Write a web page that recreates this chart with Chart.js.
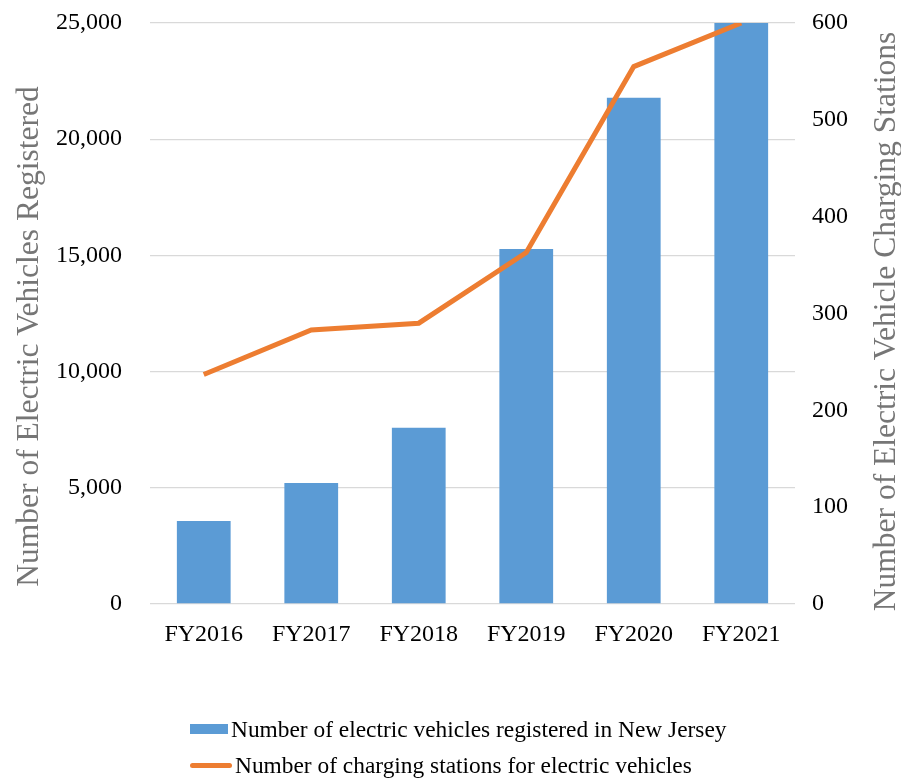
<!DOCTYPE html>
<html lang="en">
<head>
    <meta charset="UTF-8">
    <title>Electric Vehicles and Charging Stations in New Jersey</title>
    <script src="https://cdn.jsdelivr.net/npm/chart.js"></script>
    <style>
        html, body { margin: 0; padding: 0; background: #fff; }
        .wrap { position: relative; width: 901px; height: 781px; }
        .legend { position: absolute; left: 190px; top: 711px; font-family: "Liberation Serif", serif; font-size: 23.4px; color: #000; }
        .legend-row { display: flex; align-items: center; height: 36px; }
        .swatch { display: inline-block; margin-right: 3px; }
    </style>
</head>
<body>
    <div class="wrap">
        <canvas id="evChart" width="901" height="781"></canvas>
        <div class="legend" id="legend"></div>
    </div>

    <script>
        const years = ['FY2016', 'FY2017', 'FY2018', 'FY2019', 'FY2020', 'FY2021'];
        const evRegistered = [3570, 5210, 7580, 15280, 21780, 25000];
        const chargingStations = [237, 283, 290, 363, 555, 600];
        const evLabel = 'Number of electric vehicles registered in New Jersey';
        const stationLabel = 'Number of charging stations for electric vehicles';
        const leftTitle = 'Number of Electric Vehicles Registered';
        const rightTitle = 'Number of Electric Vehicle Charging Stations';

        const blue = '#5B9BD5';
        const orange = '#ED7D31';
        const titleGrey = '#767676';
        const serif = '"Liberation Serif", "Times New Roman", serif';

        // simple HTML legend, rows left aligned like the original
        const legend = document.getElementById('legend');
        legend.innerHTML =
            '<div class="legend-row"><span class="swatch" style="width:38px;height:10px;background:' + blue + '"></span>' + evLabel + '</div>' +
            '<div class="legend-row"><span class="swatch" style="width:42px;height:5px;border-radius:3px;background:' + orange + '"></span>' + stationLabel + '</div>';

        // both axis titles read bottom-to-top, so draw them ourselves
        const axisTitles = {
            id: 'axisTitles',
            afterDraw(chart) {
                const c = chart.ctx;
                const area = chart.chartArea;
                const mid = (area.top + area.bottom) / 2;
                c.save();
                c.fillStyle = titleGrey;
                c.font = '31.5px ' + serif;
                c.textAlign = 'center';
                c.textBaseline = 'middle';

                c.save();
                c.translate(30, mid + 23);
                c.rotate(-Math.PI / 2);
                c.fillText(leftTitle, 0, 0);
                c.restore();

                c.save();
                c.translate(chart.width - 14, mid + 8);
                c.rotate(-Math.PI / 2);
                c.fillText(rightTitle, 0, 0);
                c.restore();

                c.restore();
            }
        };

        // keep the tick labels from pushing the plot area down
        function noVPadding(scale) {
            scale.paddingTop = 0;
            scale.paddingBottom = 0;
        }

        const ctx = document.getElementById('evChart').getContext('2d');
        new Chart(ctx, {
            data: {
                labels: years,
                datasets: [
                    {
                        type: 'line',
                        label: stationLabel,
                        data: chargingStations,
                        yAxisID: 'y1',
                        borderColor: orange,
                        borderWidth: 5,
                        pointRadius: 0,
                        tension: 0,
                        order: 0
                    },
                    {
                        type: 'bar',
                        label: evLabel,
                        data: evRegistered,
                        yAxisID: 'y',
                        backgroundColor: blue,
                        categoryPercentage: 1,
                        barPercentage: 0.5,
                        order: 1
                    }
                ]
            },
            options: {
                responsive: false,
                animation: false,
                layout: { padding: { top: 23 } },
                plugins: {
                    legend: { display: false },
                    tooltip: { enabled: false }
                },
                scales: {
                    x: {
                        grid: { display: false, drawTicks: false },
                        border: { display: false },
                        ticks: { color: '#000', padding: 16, font: { family: serif, size: 24 } },
                        afterFit: function(scale) { scale.height = 177; }
                    },
                    y: {
                        position: 'left',
                        min: 0,
                        max: 25000,
                        ticks: {
                            stepSize: 5000,
                            color: '#000',
                            padding: 28,
                            font: { family: serif, size: 24 },
                            callback: v => v.toLocaleString('en-US')
                        },
                        grid: { color: '#D9D9D9', lineWidth: 1.3, drawTicks: false },
                        border: { display: false },
                        afterFit: function(scale) { scale.width = 150; noVPadding(scale); }
                    },
                    y1: {
                        position: 'right',
                        min: 0,
                        max: 600,
                        ticks: {
                            stepSize: 100,
                            color: '#000',
                            padding: 17,
                            font: { family: serif, size: 24 }
                        },
                        grid: { drawOnChartArea: false, drawTicks: false },
                        border: { display: false },
                        afterFit: function(scale) { scale.width = 106; noVPadding(scale); }
                    }
                }
            },
            plugins: [axisTitles]
        });
    </script>
</body>
</html>
